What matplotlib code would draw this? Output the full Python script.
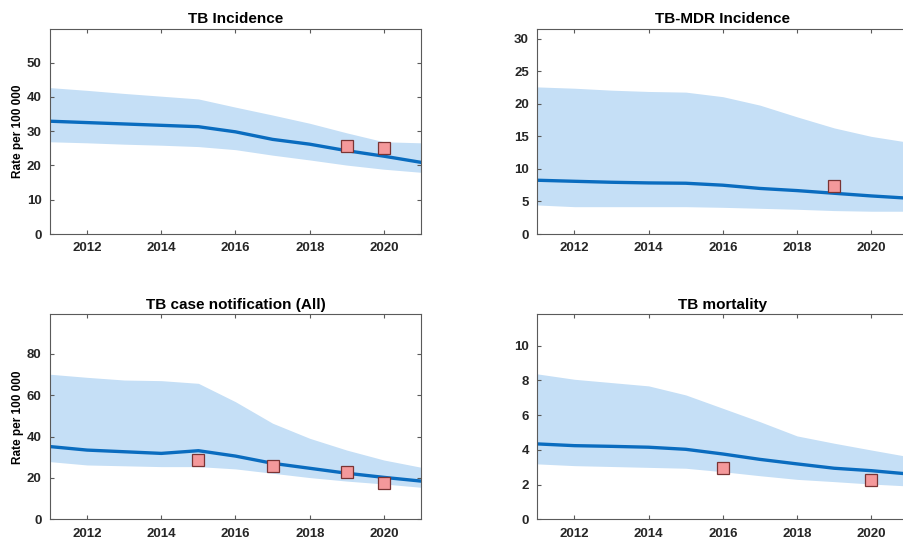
import matplotlib
matplotlib.use("Agg")
import matplotlib.pyplot as plt

plt.rcParams["font.family"] = ["Liberation Sans", "DejaVu Sans"]
plt.rcParams["font.weight"] = "bold"

years = [2011, 2012, 2013, 2014, 2015, 2016, 2017, 2018, 2019, 2020, 2021]

# TB incidence
inc_mid = [32.9, 32.5, 32.1, 31.7, 31.3, 29.8, 27.6, 26.2, 24.3, 22.7, 20.9]
inc_lo = [26.9, 26.6, 26.2, 25.9, 25.5, 24.6, 23.0, 21.6, 20.1, 18.9, 18.0]
inc_hi = [42.7, 41.9, 41.0, 40.2, 39.4, 37.0, 34.7, 32.3, 29.5, 26.9, 26.6]
inc_obs_x = [2019, 2020]
inc_obs_y = [25.7, 25.0]

# MDR-TB incidence
mdr_mid = [8.26, 8.1, 7.95, 7.85, 7.8, 7.5, 7.0, 6.67, 6.26, 5.85, 5.5]
mdr_lo = [4.46, 4.2, 4.2, 4.2, 4.2, 4.1, 3.95, 3.8, 3.6, 3.5, 3.5]
mdr_hi = [22.6, 22.4, 22.1, 21.9, 21.8, 21.1, 19.8, 18.0, 16.3, 15.0, 14.1]
mdr_obs_x = [2019]
mdr_obs_y = [7.44]

# Case notifications
notif_mid = [35.2, 33.5, 32.7, 31.9, 33.2, 30.6, 27.1, 24.7, 22.3, 20.3, 18.5]
notif_lo = [27.9, 26.3, 25.9, 25.5, 25.5, 24.4, 22.3, 20.2, 18.5, 17.1, 15.5]
notif_hi = [70.2, 68.7, 67.4, 67.1, 65.8, 56.9, 46.5, 39.2, 33.5, 28.7, 25.2]
notif_obs_x = [2015, 2017, 2019, 2020]
notif_obs_y = [28.7, 26.0, 22.9, 17.7]

# Mortality
mort_mid = [4.34, 4.24, 4.2, 4.15, 4.03, 3.76, 3.45, 3.19, 2.94, 2.80, 2.61]
mort_lo = [3.19, 3.09, 3.04, 2.99, 2.94, 2.74, 2.51, 2.30, 2.17, 2.03, 1.92]
mort_hi = [8.37, 8.06, 7.87, 7.68, 7.16, 6.39, 5.62, 4.80, 4.38, 3.99, 3.61]
mort_obs_x = [2016, 2020]
mort_obs_y = [2.97, 2.26]

panels = [
    ("TB Incidence", inc_mid, inc_lo, inc_hi, inc_obs_x, inc_obs_y, 59.8, [0, 10, 20, 30, 40, 50]),
    ("TB-MDR Incidence", mdr_mid, mdr_lo, mdr_hi, mdr_obs_x, mdr_obs_y, 31.5, [0, 5, 10, 15, 20, 25, 30]),
    ("TB case notification (All)", notif_mid, notif_lo, notif_hi, notif_obs_x, notif_obs_y, 99.2, [0, 20, 40, 60, 80]),
    ("TB mortality", mort_mid, mort_lo, mort_hi, mort_obs_x, mort_obs_y, 11.8, [0, 2, 4, 6, 8, 10]),
]

band_color = "#c5dff6"
line_color = "#0a6cbf"
spine_color = "#5a5a5a"

fig = plt.figure(figsize=(9.04, 5.47), dpi=100)
positions = [
    [0.0553, 0.5722, 0.4104, 0.3748],
    [0.5944, 0.5722, 0.4104, 0.3748],
    [0.0553, 0.0506, 0.4104, 0.3748],
    [0.5944, 0.0506, 0.4104, 0.3748],
]

for i, (title, mid, lo, hi, ox, oy, ytop, yticks) in enumerate(panels):
    ax = fig.add_axes(positions[i])
    ax.fill_between(years, lo, hi, color=band_color, linewidth=0)
    ax.plot(years, mid, color=line_color, linewidth=2.4)
    ax.plot(ox, oy, linestyle="none", marker="s", markersize=8,
            markerfacecolor="#f4999b", markeredgecolor="#7a3434", markeredgewidth=0.9)
    ax.set_xlim(2011, 2021)
    ax.set_ylim(0, ytop)
    ax.set_xticks([2012, 2014, 2016, 2018, 2020])
    ax.set_yticks(yticks)
    ax.set_title(title, fontsize=11, fontweight="bold", pad=4)
    ax.tick_params(direction="in", length=3, width=0.8, color=spine_color,
                   top=True, right=True, labelsize=9.5, pad=6)
    for lab in ax.get_xticklabels() + ax.get_yticklabels():
        lab.set_fontweight("bold")
        lab.set_color("#262626")
    for sp in ax.spines.values():
        sp.set_color(spine_color)
        sp.set_linewidth(0.8)
    if i % 2 == 0:
        ax.set_ylabel("Rate per 100 000", fontsize=8.5, fontweight="bold", labelpad=2)

fig.savefig("out.png", dpi=100)
